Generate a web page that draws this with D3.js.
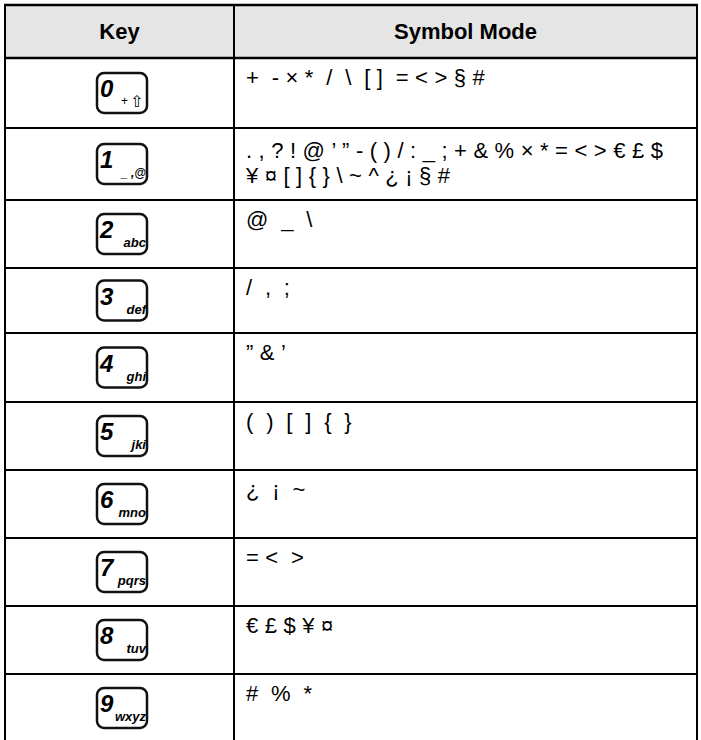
<!DOCTYPE html>
<html>
<head>
<meta charset="utf-8">
<script src="https://cdn.jsdelivr.net/npm/d3@7"></script>
<style>
  html, body { margin: 0; padding: 0; background: #fff; }
  svg { display: block; }
  text { white-space: pre; }
</style>
</head>
<body>
<script>
// ---- data ----
const headers = ["Key", "Symbol Mode"];
const keyDigits = ["0", "1", "2", "3", "4", "5", "6", "7", "8", "9"];
const keyLetters = ["+ \u21E7", "_ ,@", "abc", "def", "ghi", "jki", "mno", "pqrs", "tuv", "wxyz"];
const symbolLines = [
  ["+  - \u00D7 *  /  \\  [ ]  = < > \u00A7 #"],
  [". , ? ! @ \u2019 \u201D - ( ) / : _ ; + & % \u00D7 * = < > \u20AC \u00A3 $",
   "\u00A5 \u00A4 [ ] { } \\ ~ ^ \u00BF \u00A1 \u00A7 #"],
  ["@  _  \\"],
  ["/  ,  ;"],
  ["\u201D & \u2019"],
  ["(  )  [  ]  {  }"],
  ["\u00BF  \u00A1  ~"],
  ["= <  >"],
  ["\u20AC \u00A3 $ \u00A5 \u00A4"],
  ["#  %  *"]
];

// ---- layout ----
const W = 701, H = 740;
const tableLeft = 5, tableRight = 697, divider = 234, tableTop = 5, headerBottom = 58;
const rowIdx = d3.range(keyDigits.length + 1);
const rowBounds = [58, 128, 200, 268, 333, 402, 470, 538, 606, 674, 742];
const yRow = d3.scaleLinear().domain(rowIdx).range(rowBounds);
const font = "'Liberation Sans', Arial, Helvetica, sans-serif";

const svg = d3.select("body").append("svg").attr("width", W).attr("height", H);

// header background
svg.append("rect")
  .attr("x", tableLeft).attr("y", tableTop)
  .attr("width", tableRight - tableLeft).attr("height", headerBottom - tableTop)
  .attr("fill", "#e5e5e5");

// header text
const colCenters = [(tableLeft + divider) / 2, (divider + tableRight) / 2];
svg.selectAll("text.hdr").data(headers).enter().append("text")
  .attr("class", "hdr")
  .attr("x", (d, i) => colCenters[i])
  .attr("y", 39)
  .attr("text-anchor", "middle")
  .attr("font-family", font).attr("font-weight", "bold").attr("font-size", 22)
  .attr("fill", "#000")
  .text(d => d);

// rows
const rows = svg.selectAll("g.row").data(keyDigits).enter().append("g").attr("class", "row");

rows.each(function(d, i) {
  const g = d3.select(this);
  const top = yRow(i);
  const lines = symbolLines[i];
  g.selectAll("text.sym").data(lines).enter().append("text")
    .attr("class", "sym")
    .attr("x", 246)
    .attr("y", (l, j) => top + (lines.length > 1 ? 30 : 27) + j * 25)
    .attr("font-family", font).attr("font-size", 22)
    .attr("letter-spacing", 0.2)
    .attr("fill", "#000")
    .text(l => l);

  // key icon
  const bh = yRow(i + 1) - top;
  const iw = 50, ih = 40;
  const ix = 97, iy = top + (bh - ih) / 2;
  g.append("rect")
    .attr("x", ix).attr("y", iy).attr("width", iw).attr("height", ih)
    .attr("rx", 7).attr("ry", 7)
    .attr("fill", "#fff").attr("stroke", "#111").attr("stroke-width", 2.5);
  g.append("text")
    .attr("x", ix + 3).attr("y", iy + 24)
    .attr("font-family", font).attr("font-weight", "bold").attr("font-style", "italic")
    .attr("font-size", 24).attr("fill", "#000")
    .text(d);
  if (i === 0) {
    g.append("text")
      .attr("x", ix + 24).attr("y", iy + 32)
      .attr("font-family", font).attr("font-size", 12).attr("fill", "#000")
      .text("+");
    g.append("text")
      .attr("x", ix + 33).attr("y", iy + 34)
      .attr("font-family", "'DejaVu Sans', sans-serif").attr("font-size", 16).attr("fill", "#000")
      .text("\u21E7");
  } else {
    g.append("text")
      .attr("x", ix + iw - 1).attr("y", iy + 33)
      .attr("text-anchor", "end")
      .attr("font-family", font).attr("font-weight", "bold").attr("font-style", "italic")
      .attr("font-size", i === 1 ? 12 : 13).attr("fill", "#000")
      .text(keyLetters[i]);
  }
});

// grid lines
const hLines = [tableTop, headerBottom].concat(rowIdx.slice(1, keyDigits.length).map(i => yRow(i)));
svg.selectAll("line.h").data(hLines).enter().append("line")
  .attr("class", "h")
  .attr("x1", tableLeft - 1).attr("x2", tableRight + 1)
  .attr("y1", d => d).attr("y2", d => d)
  .attr("stroke", "#000").attr("stroke-width", (d, i) => i < 2 ? 2.5 : 2);
svg.selectAll("line.v").data([tableLeft, divider, tableRight]).enter().append("line")
  .attr("class", "v")
  .attr("x1", d => d).attr("x2", d => d)
  .attr("y1", tableTop - 1).attr("y2", H)
  .attr("stroke", "#000").attr("stroke-width", 2);
</script>
</body>
</html>
